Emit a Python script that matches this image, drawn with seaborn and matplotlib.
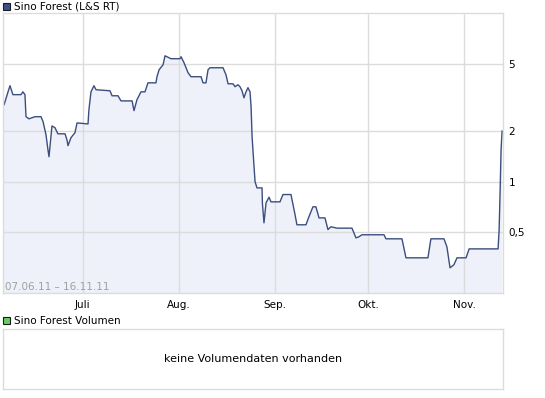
import pandas as pd
import numpy as np
import matplotlib.pyplot as plt
import matplotlib.patches as mpatches
from matplotlib.ticker import FixedLocator, NullLocator
import seaborn as sns

# Kursverlauf Sino Forest (L&S RT)
dates = [
    "2011-06-05 16:00", "2011-06-06 23:00", "2011-06-07 14:00", "2011-06-08 13:00",
    "2011-06-11 03:00", "2011-06-11 18:00", "2011-06-12 10:00", "2011-06-12 18:00",
    "2011-06-13 17:00", "2011-06-15 16:00", "2011-06-17 14:00", "2011-06-18 06:00",
    "2011-06-19 05:00", "2011-06-19 20:00", "2011-06-20 04:00", "2011-06-21 03:00",
    "2011-06-22 02:00", "2011-06-23 01:00", "2011-06-25 08:00", "2011-06-25 23:00",
    "2011-06-26 07:00", "2011-06-27 06:00", "2011-06-28 13:00", "2011-06-29 05:00",
    "2011-07-02 18:00", "2011-07-03 01:00", "2011-07-03 17:00", "2011-07-04 16:00",
    "2011-07-05 08:00", "2011-07-09 20:00", "2011-07-10 12:00", "2011-07-12 10:00",
    "2011-07-13 09:00", "2011-07-16 23:00", "2011-07-17 14:00", "2011-07-18 13:00",
    "2011-07-19 20:00", "2011-07-21 03:00", "2011-07-22 02:00", "2011-07-24 16:00",
    "2011-07-25 00:00", "2011-07-25 16:00", "2011-07-26 23:00", "2011-07-27 14:00",
    "2011-07-29 12:00", "2011-08-01 10:00", "2011-08-01 18:00", "2011-08-02 17:00",
    "2011-08-04 00:00", "2011-08-04 23:00", "2011-08-08 05:00", "2011-08-08 20:00",
    "2011-08-09 19:00", "2011-08-10 11:00", "2011-08-11 02:00", "2011-08-15 07:00",
    "2011-08-16 06:00", "2011-08-16 22:00", "2011-08-18 12:00", "2011-08-19 04:00",
    "2011-08-20 03:00", "2011-08-20 18:00", "2011-08-21 10:00", "2011-08-22 01:00",
    "2011-08-22 17:00", "2011-08-23 08:00", "2011-08-24 00:00", "2011-08-24 08:00",
    "2011-08-24 16:00", "2011-08-25 07:00", "2011-08-25 15:00", "2011-08-26 06:00",
    "2011-08-27 21:00", "2011-08-28 00:00", "2011-08-28 12:00", "2011-08-29 04:00",
    "2011-08-30 03:00", "2011-08-30 18:00", "2011-09-02 16:00", "2011-09-03 15:00",
    "2011-09-06 05:00", "2011-09-07 12:00", "2011-09-08 03:00", "2011-09-11 01:00",
    "2011-09-12 00:00", "2011-09-13 07:00", "2011-09-14 06:00", "2011-09-15 06:00",
    "2011-09-17 04:00", "2011-09-18 03:00", "2011-09-19 02:00", "2011-09-21 01:00",
    "2011-09-25 21:00", "2011-09-27 04:00", "2011-09-28 03:00", "2011-09-29 02:00",
    "2011-10-06 05:00", "2011-10-06 20:00", "2011-10-12 00:00", "2011-10-13 07:00",
    "2011-10-20 09:00", "2011-10-21 08:00", "2011-10-25 13:00", "2011-10-26 12:00",
    "2011-10-27 12:00", "2011-10-28 18:00", "2011-10-29 18:00", "2011-11-01 16:00",
    "2011-11-02 16:00", "2011-11-12 00:00", "2011-11-12 08:00", "2011-11-12 16:00",
    "2011-11-12 23:00", "2011-11-13 07:00",
]
prices = [
    2.87, 3.43, 3.73, 3.30,
    3.30, 3.43, 3.30, 2.44,
    2.37, 2.44, 2.44, 2.28,
    1.90, 1.55, 1.41, 2.15,
    2.10, 1.93, 1.93, 1.78,
    1.64, 1.83, 1.96, 2.24,
    2.21, 2.68, 3.43, 3.73,
    3.53, 3.48, 3.25, 3.25,
    3.03, 3.03, 2.65, 3.08,
    3.43, 3.43, 3.88, 3.88,
    4.22, 4.64, 4.97, 5.62,
    5.40, 5.40, 5.55, 5.11,
    4.46, 4.22, 4.22, 3.88,
    3.88, 4.64, 4.77, 4.77,
    4.33, 3.83, 3.83, 3.68,
    3.78, 3.68, 3.48, 3.16,
    3.43, 3.63, 3.43, 2.80,
    1.85, 1.23, 1.00, 0.92,
    0.92, 0.74, 0.57, 0.75,
    0.81, 0.76, 0.76, 0.84,
    0.84, 0.64, 0.555, 0.555,
    0.62, 0.71, 0.71, 0.61,
    0.61, 0.52, 0.54, 0.53,
    0.53, 0.464, 0.471, 0.484,
    0.484, 0.458, 0.458, 0.353,
    0.353, 0.458, 0.458, 0.41,
    0.308, 0.321, 0.353, 0.353,
    0.399, 0.399, 0.518, 0.90,
    1.55, 2.01,
]

month_ticks = ["2011-07-01", "2011-08-01", "2011-09-01", "2011-10-01", "2011-11-01"]
month_labels = ["Juli", "Aug.", "Sep.", "Okt.", "Nov."]
price_ticks = [0.5, 1, 2, 5]
price_labels = ["0,5", "1", "2", "5"]

df = pd.DataFrame({"datum": pd.to_datetime(dates), "kurs": prices})

sns.set_style("white")
plt.rcParams['font.family'] = ['DejaVu Sans']
plt.rcParams['text.color'] = 'black'
plt.rcParams['xtick.labelcolor'] = 'black'
plt.rcParams['ytick.labelcolor'] = 'black'

grid_col = "#dcdcdc"
line_col = "#3b4e7e"

fig = plt.figure(figsize=(5.45, 3.98), dpi=100)
W, H = 545.0, 398.0
ax = fig.add_axes([3 / W, 1 - 293 / H, 500 / W, 280 / H])
ax2 = fig.add_axes([3 / W, 1 - 389 / H, 500 / W, 60 / H])

# Kurs-Chart: Fläche unter Gitter, Linie über Gitter
ax.fill_between(df.datum, df.kurs, 0.01, color="#eef1f9", linewidth=0, zorder=1)
sns.lineplot(data=df, x="datum", y="kurs", ax=ax, color=line_col, linewidth=1.0, zorder=2)
ax.set_yscale("log")
ax.set_ylim(0.218, 10.1)
ax.set_xlim(pd.Timestamp("2011-06-05 08:00"), pd.Timestamp("2011-11-13 14:00"))
ax.set_xticks(pd.to_datetime(month_ticks))
ax.set_xticklabels(month_labels)
ax.yaxis.set_major_locator(FixedLocator(price_ticks))
ax.yaxis.set_minor_locator(NullLocator())
ax.set_yticklabels(price_labels)
ax.yaxis.tick_right()
ax.set_xlabel("")
ax.set_ylabel("")
ax.grid(True, color=grid_col, linewidth=1)
ax.set_axisbelow("line")
ax.tick_params(axis="x", length=3, color=grid_col, labelcolor="black", pad=2, labelsize=7.5)
ax.tick_params(axis="y", length=0, labelcolor="black", pad=4, labelsize=7.5)
for s in ax.spines.values():
    s.set_color(grid_col)
    s.set_linewidth(1)

ax.text(5 / W, 1 - 287 / H, "07.06.11 \u2013 16.11.11", transform=fig.transFigure,
        fontsize=7.5, color="#a0a0a0", va="center", ha="left")

# Volumen-Panel
ax2.set_xticks([])
ax2.set_yticks([])
for s in ax2.spines.values():
    s.set_color(grid_col)
    s.set_linewidth(1)
ax2.text(0.5, 0.5, "keine Volumendaten vorhanden", transform=ax2.transAxes,
         ha="center", va="center", fontsize=8, color="black")

# Legenden-Kästchen
fig.patches.append(mpatches.Rectangle((3 / W, 1 - 10 / H), 7 / W, 7 / H,
                                      transform=fig.transFigure, facecolor="#3d5283",
                                      edgecolor="#1a1a2a", linewidth=0.8))
fig.text(14 / W, 1 - 6.5 / H, "Sino Forest (L&S RT)", fontsize=7.5, color="black",
         va="center", ha="left")
fig.patches.append(mpatches.Rectangle((3 / W, 1 - 324 / H), 7 / W, 7 / H,
                                      transform=fig.transFigure, facecolor="#66cc66",
                                      edgecolor="#1a1a1a", linewidth=0.8))
fig.text(14 / W, 1 - 320.5 / H, "Sino Forest Volumen", fontsize=7.5, color="black",
         va="center", ha="left")

fig.savefig("out.png", dpi=100)
